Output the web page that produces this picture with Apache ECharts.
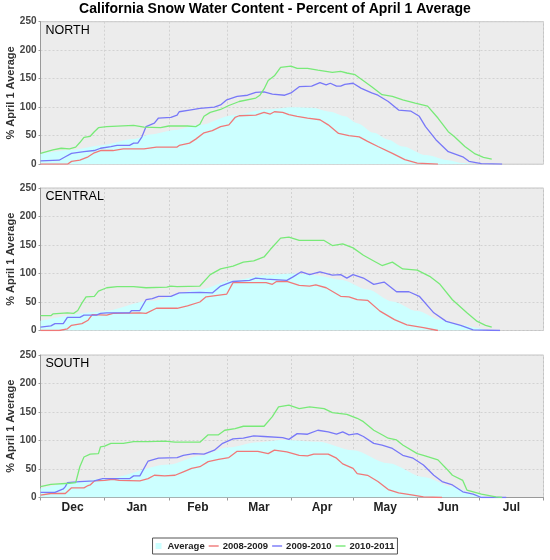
<!DOCTYPE html>
<html><head><meta charset="utf-8">
<script src="https://cdn.jsdelivr.net/npm/echarts@6/dist/echarts.min.js"></script>
<style>html,body{margin:0;padding:0;background:#fff}#c{width:550px;height:560px}</style>
</head><body><div id="c"></div>
<script>
// x values are days since Dec 1
const monthNames = ['Dec','Jan','Feb','Mar','Apr','May','Jun','Jul'];
const monthStarts = [0,31,62,90,121,151,182,212,243];
const seriesNames = ['Average','2008-2009','2009-2010','2010-2011'];
const panelNames = ['NORTH','CENTRAL','SOUTH'];
const titleText = 'California Snow Water Content - Percent of April 1 Average';
const yAxisTitle = '% April 1 Average';

const northAvg = [[0,18],[15,25],[29,33],[45,44],[53,52],[65,60],[77,69],[93,86],[109,96],[122,100],[131,99],[140,92],[147,84],[153,72],[161,55],[168,43],[175,31],[186,16],[197,7],[204,2],[210,0]];
const north0809 = [[0,0],[13,0],[15,5],[19,7],[23,13],[26,20],[29,24],[35,24],[40,27],[50,27],[56,30],[66,30],[67,33],[72,37],[75,44],[79,55],[83,59],[87,66],[91,69],[94,82],[96,85],[104,86],[108,91],[111,88],[113,92],[117,91],[120,87],[124,84],[129,81],[135,78],[139,69],[144,54],[149,50],[154,48],[158,40],[163,31],[170,19],[176,8],[182,2],[192,0]];
const north0910 = [[0,6],[9,7],[12,13],[15,19],[21,22],[26,24],[29,28],[34,31],[37,33],[43,33],[45,37],[47,37],[49,48],[51,66],[55,72],[57,81],[63,82],[66,86],[67,92],[72,95],[77,98],[84,100],[87,104],[90,113],[95,119],[100,121],[104,126],[108,127],[112,123],[118,121],[121,125],[125,136],[131,137],[135,143],[138,139],[140,142],[143,137],[145,137],[147,140],[151,142],[155,133],[160,125],[163,121],[168,110],[173,95],[179,93],[183,84],[186,66],[191,43],[197,22],[204,13],[207,5],[213,1],[223,0]];
const north1011 = [[0,19],[6,25],[10,28],[14,27],[17,30],[19,38],[21,47],[24,49],[26,57],[28,64],[32,66],[45,68],[50,65],[58,64],[62,67],[71,67],[75,66],[77,70],[79,84],[82,91],[87,96],[91,103],[96,110],[104,116],[106,121],[108,132],[110,147],[113,155],[116,170],[121,172],[124,168],[129,168],[134,165],[141,161],[145,163],[148,160],[152,157],[155,149],[160,136],[165,122],[170,119],[175,113],[181,107],[187,102],[192,81],[197,57],[200,48],[205,31],[210,18],[214,12],[218,9]];

const centralAvg = [[0,17],[29,33],[53,52],[77,72],[93,88],[109,97],[122,100],[133,97],[145,89],[158,72],[170,51],[182,34],[193,19],[203,10],[212,4],[216,0]];
const central0809 = [[0,0],[9,0],[13,3],[15,9],[20,12],[23,18],[25,28],[32,27],[35,30],[48,31],[51,30],[56,39],[66,39],[71,43],[77,50],[80,59],[90,64],[93,84],[109,84],[112,81],[114,86],[119,86],[125,79],[130,78],[133,80],[138,75],[145,60],[149,59],[153,54],[158,53],[164,34],[171,19],[177,10],[185,5],[192,0]];
const central0910 = [[0,6],[5,8],[7,12],[11,12],[13,23],[19,23],[21,27],[27,27],[29,30],[32,31],[43,31],[44,35],[48,35],[51,54],[54,56],[57,60],[63,60],[67,66],[77,67],[83,66],[87,78],[93,86],[101,88],[104,92],[109,90],[119,88],[122,94],[126,103],[130,98],[135,103],[141,97],[145,98],[148,92],[151,98],[156,92],[161,81],[166,85],[172,68],[178,68],[183,60],[190,31],[196,16],[203,9],[209,1],[222,0]];
const central1011 = [[0,26],[5,26],[6,29],[13,31],[16,30],[18,35],[20,48],[22,59],[26,60],[28,69],[32,75],[37,77],[45,77],[51,75],[61,76],[63,78],[66,77],[77,78],[82,98],[87,108],[93,113],[98,120],[103,122],[108,129],[111,142],[116,162],[120,164],[125,158],[132,158],[137,158],[141,149],[146,152],[151,145],[156,132],[161,122],[165,114],[170,120],[175,108],[182,106],[188,95],[193,81],[199,54],[206,31],[211,16],[215,9],[218,6]];

const southAvg = [[0,16],[31,33],[62,58],[77,73],[91,88],[105,97],[117,101],[134,98],[151,83],[168,60],[185,36],[199,19],[209,7],[216,1],[220,0]];
const south0809 = [[0,4],[5,7],[12,7],[15,17],[21,17],[23,21],[24,22],[26,29],[31,30],[35,32],[38,30],[48,29],[52,33],[55,39],[60,38],[65,39],[69,45],[73,51],[77,54],[81,63],[86,67],[91,70],[95,81],[105,81],[110,77],[113,83],[119,80],[125,74],[129,73],[132,76],[139,76],[143,69],[146,59],[151,51],[153,42],[158,39],[163,28],[168,14],[173,8],[180,4],[185,1],[194,0]];
const south0910 = [[0,9],[7,9],[11,15],[12,19],[13,26],[19,28],[26,29],[30,33],[43,33],[45,38],[48,38],[52,64],[57,69],[66,70],[69,74],[74,77],[79,76],[84,83],[88,95],[93,103],[98,104],[103,108],[108,107],[117,105],[120,102],[124,112],[129,111],[134,118],[139,115],[143,111],[146,115],[149,110],[153,112],[156,107],[161,95],[165,92],[170,86],[175,74],[180,69],[185,57],[190,39],[194,28],[199,22],[204,10],[209,6],[213,0],[225,0]];
const south1011 = [[0,19],[5,23],[14,25],[17,26],[19,54],[21,71],[24,76],[28,77],[29,89],[31,90],[34,95],[40,95],[45,98],[52,98],[60,99],[65,97],[77,97],[81,110],[86,110],[89,118],[94,121],[98,125],[108,125],[112,142],[115,159],[120,162],[125,156],[130,159],[137,156],[141,149],[148,146],[153,139],[156,133],[161,118],[165,110],[168,104],[172,101],[175,92],[182,77],[185,74],[192,66],[196,51],[199,39],[204,30],[206,13],[213,6],[220,1],[223,0]];

const panelData = [
  [northAvg, north0809, north0910, north1011],
  [centralAvg, central0809, central0910, central1011],
  [southAvg, south0809, south0910, south1011]
];

const colors = ['#ccffff','#f07878','#7878f8','#78ea78'];
const FONT = 'Liberation Sans, Arial, sans-serif';
const gridTops = [21.7, 188, 355];
const gridH = 142.5;
const labelPos = monthNames.map((m,k)=>(monthStarts[k]+monthStarts[k+1])/2);

const chart = echarts.init(document.getElementById('c'), null, {renderer:'canvas'});

const grids = [], xAxes = [], yAxes = [], series = [];
const titles = [{
  text: titleText, left:'center', top:2.5, padding:0,
  textStyle:{fontFamily:FONT, fontSize:14, fontWeight:'bold', color:'#000'}
}];
const gridLine = {show:true, lineStyle:{color:'#d2d2d2', width:1, type:[2,2]}};

panelNames.forEach((pn,i)=>{
  const isBottom = i === panelNames.length-1;
  grids.push({left:40.5, right:6.5, top:gridTops[i], height:gridH, show:true,
    backgroundColor:'#ececec', borderColor:'#c4c4c4', borderWidth:1,
    containLabel:false, outerBoundsMode:'none'});
  titles.push({text:pn, left:45.5, top:gridTops[i]+2.5, padding:0,
    textStyle:{fontFamily:FONT, fontSize:12.5, fontWeight:'normal', color:'#000'}});
  xAxes.push({type:'value', gridIndex:i, min:monthStarts[0], max:monthStarts[monthStarts.length-1],
    axisLine:{show:isBottom, lineStyle:{color:'#999'}},
    axisTick:{show:isBottom, length:3, customValues:monthStarts, lineStyle:{color:'#999'}},
    axisLabel:{show:isBottom, customValues:labelPos, margin:4,
      fontFamily:FONT, fontSize:12, fontWeight:'bold', color:'#222',
      formatter:(v)=>{const k = labelPos.findIndex(p=>Math.abs(p-v)<0.01); return k>=0?monthNames[k]:'';}},
    splitLine:gridLine});
  yAxes.push({type:'value', gridIndex:i, min:0, max:250, interval:50,
    name:yAxisTitle, nameLocation:'middle', nameGap:24, nameMoveOverlap:false,
    nameTextStyle:{fontFamily:FONT, fontSize:11, fontWeight:'bold', color:'#333'},
    axisLine:{show:true, lineStyle:{color:'#999'}},
    axisTick:{show:true, length:2, lineStyle:{color:'#999'}},
    axisLabel:{fontFamily:FONT, fontSize:10, fontWeight:'bold', color:'#444', margin:4},
    splitLine:gridLine});
  panelData[i].forEach((d,k)=>{
    const s = {type:'line', name:seriesNames[k], xAxisIndex:i, yAxisIndex:i, data:d,
      symbol:'none', showSymbol:false, silent:true, animation:false,
      color:colors[k], itemStyle:{color:colors[k]},
      lineStyle:{width:k===0?0:1.3, color:colors[k]}, z:k===0?1:2};
    if (k===0) { s.areaStyle = {color:colors[0], opacity:1}; s.smooth = 0.3; s.smoothMonotone = 'x'; }
    series.push(s);
  });
});

chart.setOption({
  backgroundColor:'#fff',
  animation:false,
  title:titles,
  grid:grids, xAxis:xAxes, yAxis:yAxes, series:series,
  legend:{
    top:538, left:'center', orient:'horizontal',
    itemWidth:10, itemHeight:6, itemGap:4, symbolKeepAspect:true,
    padding:[3,3,3,3], borderColor:'#555', borderWidth:1, backgroundColor:'#fff', borderRadius:0,
    selectedMode:false,
    itemStyle:{borderWidth:0},
    textStyle:{fontFamily:FONT, fontSize:9.5, fontWeight:'bold', color:'#222', padding:[0,0,0,-1]},
    data:[
      {name:seriesNames[0], icon:'path://M0,0H1V1H0Z'},
      {name:seriesNames[1], icon:'path://M0,0H10V1.4H0Z'},
      {name:seriesNames[2], icon:'path://M0,0H10V1.4H0Z'},
      {name:seriesNames[3], icon:'path://M0,0H10V1.4H0Z'}
    ]
  }
});
</script></body></html>
